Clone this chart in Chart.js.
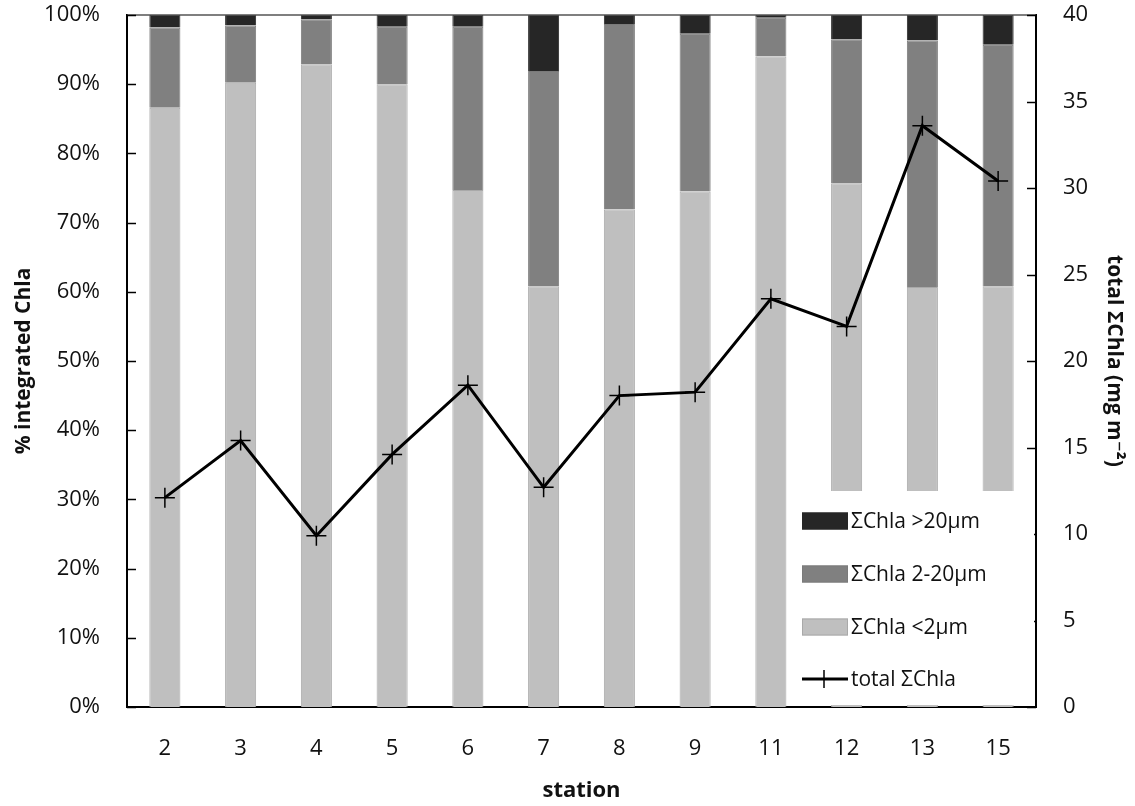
<!DOCTYPE html>
<html>
<head>
<meta charset="utf-8">
<script src="https://cdn.jsdelivr.net/npm/chart.js@4/dist/chart.umd.min.js"></script>
<style>
  html, body { margin: 0; padding: 0; background: #fff; }
  #wrap { width: 1135px; height: 806px; position: relative; }
</style>
</head>
<body>
<div id="wrap"><canvas id="chart"></canvas></div>
<script>
// stations on the x axis
const stations = ['2', '3', '4', '5', '6', '7', '8', '9', '11', '12', '13', '15'];

// size fractions, % of integrated Chla (stacked from the bottom)
const pctSmall  = [86.6, 90.2, 92.9, 90.0, 74.7, 60.8, 71.9, 74.5, 94.0, 75.7, 60.7, 60.8];
const pctMedium = [11.6,  8.3,  6.5,  8.3, 23.6, 31.1, 26.8, 22.8,  5.6, 20.8, 35.6, 34.9];
const pctLarge  = [ 1.8,  1.5,  0.6,  1.7,  1.7,  8.1,  1.3,  2.7,  0.4,  3.5,  3.7,  4.3];

// total ΣChla, mg m-2 (right axis)
const totalChla = [12.1, 15.4, 9.9, 14.6, 18.6, 12.7, 18.0, 18.2, 23.6, 22.0, 33.6, 30.4];

const FONT = "'Open Sans', 'DejaVu Sans', sans-serif";

// inner tick marks, top frame line and the boxed legend inside the plot
const framePlugin = {
    id: 'frame',
    afterDraw(chart) {
        const ctx = chart.ctx;
        const area = chart.chartArea;
        ctx.save();

        // top frame line
        ctx.strokeStyle = '#555';
        ctx.lineWidth = 1.5;
        ctx.beginPath();
        ctx.moveTo(area.left, area.top);
        ctx.lineTo(area.right, area.top);
        ctx.stroke();

        // tick marks pointing into the plot
        ctx.strokeStyle = '#000';
        ctx.lineWidth = 1.5;
        const left = chart.scales.y;
        left.ticks.forEach(t => {
            const py = Math.round(left.getPixelForValue(t.value)) + 0.5;
            ctx.beginPath();
            ctx.moveTo(area.left, py);
            ctx.lineTo(area.left + 9, py);
            ctx.stroke();
        });
        const right = chart.scales.y1;
        right.ticks.forEach(t => {
            const py = Math.round(right.getPixelForValue(t.value)) + 0.5;
            ctx.beginPath();
            ctx.moveTo(area.right - 9, py);
            ctx.lineTo(area.right, py);
            ctx.stroke();
        });

        // legend box (covers the bars behind it)
        const boxLeft = 792, boxTop = 491, boxRight = area.right - 2, boxBottom = area.bottom - 2;
        ctx.fillStyle = '#fff';
        ctx.fillRect(boxLeft, boxTop, boxRight - boxLeft, boxBottom - boxTop);

        const ds = chart.data.datasets;
        const entries = [ds[2], ds[1], ds[0], ds[3]];
        const rowY = [521, 574, 627, 679];
        const swX = 802, swW = 46, swH = 17;
        ctx.font = '21px ' + FONT;
        ctx.textBaseline = 'middle';
        ctx.textAlign = 'left';
        entries.forEach((d, i) => {
            const cy = rowY[i];
            if (d.type === 'line') {
                ctx.strokeStyle = '#000';
                ctx.lineWidth = 3;
                ctx.beginPath();
                ctx.moveTo(swX, cy);
                ctx.lineTo(swX + swW, cy);
                ctx.stroke();
                ctx.lineWidth = 1.5;
                ctx.beginPath();
                ctx.moveTo(swX + swW / 2 - 1, cy - 9);
                ctx.lineTo(swX + swW / 2 - 1, cy + 9);
                ctx.stroke();
            } else {
                ctx.fillStyle = d.backgroundColor;
                ctx.fillRect(swX, cy - swH / 2, swW, swH);
                ctx.strokeStyle = d.borderColor;
                ctx.lineWidth = 1;
                ctx.strokeRect(swX + 0.5, cy - swH / 2 + 0.5, swW - 1, swH - 1);
            }
            ctx.fillStyle = '#111';
            ctx.fillText(d.label, swX + swW + 3, cy + 1);
        });

        ctx.restore();
    }
};

new Chart(document.getElementById('chart'), {
    data: {
        labels: stations,
        datasets: [
            {
                type: 'bar',
                label: 'ΣChla <2μm',
                data: pctSmall,
                backgroundColor: '#bfbfbf',
                borderColor: '#a9a9a9',
                borderWidth: 1,
                yAxisID: 'y',
                stack: 'frac',
                order: 1
            },
            {
                type: 'bar',
                label: 'ΣChla 2-20μm',
                data: pctMedium,
                backgroundColor: '#808080',
                borderColor: '#7a7a7a',
                borderWidth: 1,
                yAxisID: 'y',
                stack: 'frac',
                order: 1
            },
            {
                type: 'bar',
                label: 'ΣChla >20μm',
                data: pctLarge,
                backgroundColor: '#262626',
                borderColor: '#262626',
                borderWidth: 1,
                yAxisID: 'y',
                stack: 'frac',
                order: 1
            },
            {
                type: 'line',
                label: 'total ΣChla',
                data: totalChla,
                borderColor: '#000',
                borderWidth: 3,
                tension: 0,
                pointStyle: 'cross',
                pointRadius: 10,
                pointBorderWidth: 1.5,
                pointBorderColor: '#000',
                yAxisID: 'y1',
                order: 0
            }
        ]
    },
    options: {
        responsive: true,
        maintainAspectRatio: false,
        animation: false,
        layout: { padding: { top: 15, left: 0, right: 0, bottom: 0 } },
        datasets: {
            bar: { barPercentage: 0.41, categoryPercentage: 1.0 }
        },
        plugins: {
            legend: { display: false },
            tooltip: { enabled: false }
        },
        scales: {
            x: {
                stacked: true,
                grid: { display: false, drawTicks: false },
                border: { display: true, color: '#000', width: 2 },
                ticks: { color: '#111', font: { family: FONT, size: 22 }, padding: 29 },
                title: {
                    display: true,
                    text: 'station',
                    color: '#111',
                    font: { family: FONT, size: 22, weight: 'bold' },
                    padding: { top: 4, bottom: 2 }
                },
                afterFit: scale => {
                    scale.height = 99;
                    scale.paddingLeft = 0;
                    scale.paddingRight = 0;
                }
            },
            y: {
                stacked: true,
                position: 'left',
                min: 0,
                max: 100,
                grid: { display: false, drawTicks: false },
                border: { display: true, color: '#000', width: 2 },
                ticks: {
                    stepSize: 10,
                    color: '#111',
                    font: { family: FONT, size: 22 },
                    padding: 27,
                    callback: v => v + '%'
                },
                title: {
                    display: true,
                    text: '% integrated Chla',
                    color: '#111',
                    font: { family: FONT, size: 21, weight: 'bold' },
                    padding: { top: 11, bottom: 4 }
                },
                afterFit: scale => {
                    scale.width = 127;
                    scale.paddingTop = 0;
                    scale.paddingBottom = 0;
                }
            },
            y1: {
                position: 'right',
                min: 0,
                max: 40,
                grid: { display: false, drawTicks: false },
                border: { display: true, color: '#000', width: 2 },
                ticks: {
                    stepSize: 5,
                    color: '#111',
                    font: { family: FONT, size: 22 },
                    padding: 27
                },
                title: {
                    display: true,
                    text: 'total ΣChla (mg m⁻²)',
                    color: '#111',
                    font: { family: FONT, size: 21, weight: 'bold' },
                    padding: { top: 8, bottom: 4 }
                },
                afterFit: scale => {
                    scale.width = 99;
                    scale.paddingTop = 0;
                    scale.paddingBottom = 0;
                }
            }
        }
    },
    plugins: [framePlugin]
});
</script>
</body>
</html>
